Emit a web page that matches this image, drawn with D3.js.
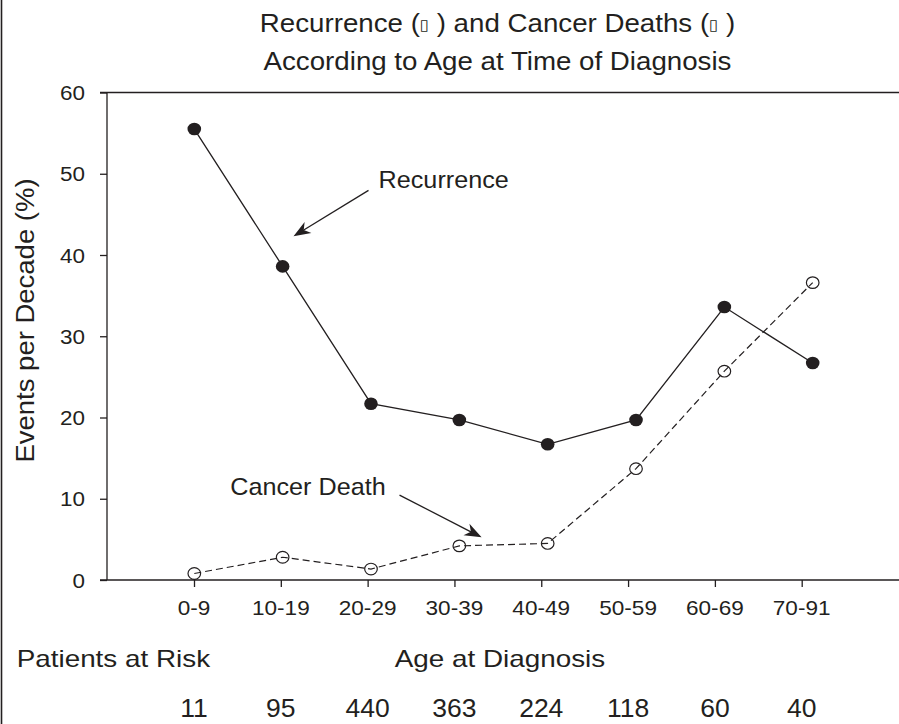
<!DOCTYPE html>
<html>
<head>
<meta charset="utf-8">
<script src="https://cdn.jsdelivr.net/npm/d3@7"></script>
<style>
  html, body { margin: 0; padding: 0; background: #fff; }
  svg { display: block; }
  text { font-family: "Liberation Sans", Arial, "DejaVu Sans", sans-serif; fill: #231f20; }
</style>
</head>
<body>
<svg id="chart" width="899" height="724"></svg>
<script>
// ---- data ----
const ageGroups = ["0-9", "10-19", "20-29", "30-39", "40-49", "50-59", "60-69", "70-91"];
const recurrence = [55.5, 38.6, 21.7, 19.7, 16.7, 19.7, 33.6, 26.7];
const cancerDeath = [0.8, 2.8, 1.35, 4.2, 4.5, 13.7, 25.7, 36.6];
const patientsAtRisk = [11, 95, 440, 363, 224, 118, 60, 40];
const yTicks = [0, 10, 20, 30, 40, 50, 60];
const titleLine1 = ["Recurrence (", "\u25AF", " ) and Cancer Deaths (", "\u25AF", " )"];
const titleLine2 = "According to Age at Time of Diagnosis";
// annotations in data units: [x index, y value]
const recurrenceNote = { label: "Recurrence", text: [2.086, 48.2], from: [1.972, 47.95], to: [1.123, 42.3] };
const deathNote = { label: "Cancer Death", text: [0.407, 10.45], from: [2.323, 10.45], to: [3.252, 5.25] };

const ink = "#231f20";
const svg = d3.select("#chart");
const W = 899, H = 724;

// scales
const y = d3.scaleLinear().domain([0, 60]).range([580, 92.5]);
const xPts = d3.scaleLinear().domain([0, ageGroups.length - 1]).range([194.3, 812.7]);
const xAxisScale = d3.scalePoint().domain(ageGroups).range([194, 801.7]);

function addText(x, yy, str, size, sx, anchor, rot) {
  const t = svg.append("text")
    .attr("transform", `translate(${x},${yy})` + (rot ? ` rotate(${rot})` : "") + ` scale(${sx},1)`)
    .attr("font-size", size)
    .attr("text-anchor", anchor || "start");
  if (str !== null) t.text(str);
  return t;
}

// left frame border
svg.append("line").attr("x1", 1.5).attr("x2", 1.5).attr("y1", 0).attr("y2", H)
  .attr("stroke", ink).attr("stroke-width", 1.6);

// title
const t1 = addText(497.5, 32, null, 25, 1.108, "middle");
titleLine1.forEach((s, i) => {
  const ts = t1.append("tspan").text(s);
  if (s === "\u25AF") ts.attr("font-size", 15).attr("font-family", "DejaVu Sans").attr("dy", -2.5).attr("fill", ink);
  else if (i > 0) ts.attr("dy", 2.5);
});
addText(497.5, 70, titleLine2, 25, 1.108, "middle");

// y axis
const yAxis = d3.axisLeft(y).tickValues(yTicks).tickSize(7).tickPadding(15).tickFormat(d3.format("d"));
const gy = svg.append("g").attr("transform", "translate(107,0)").call(yAxis);
gy.select(".domain").attr("stroke", ink).attr("stroke-width", 1.3).attr("d", `M0,${y(60)}V${y(0)}`);
gy.selectAll(".tick line").attr("stroke", ink).attr("stroke-width", 1.3);
gy.selectAll(".tick text").remove();
yTicks.forEach(v => addText(85, y(v) + 7.5, String(v), 21, 1.07, "end"));

// top and bottom horizontal lines
[0, 60].forEach(v => {
  svg.append("line").attr("x1", 100).attr("x2", W).attr("y1", y(v)).attr("y2", y(v))
    .attr("stroke", ink).attr("stroke-width", 1.4);
});

// x axis ticks
const xAxis = d3.axisBottom(xAxisScale).tickSize(7).tickFormat("");
const gx = svg.append("g").attr("transform", `translate(0,${y(0)})`).call(xAxis);
gx.select(".domain").remove();
gx.selectAll(".tick line").attr("stroke", ink).attr("stroke-width", 1.3);
ageGroups.forEach(a => addText(xAxisScale(a), 615, a, 20, 1.13, "middle"));

// y title
addText(33.5, 320.5, "Events per Decade (%)", 25, 1.1, "middle", -90);

// bottom labels
addText(16.7, 667, "Patients at Risk", 24, 1.16, "start");
addText(500, 667, "Age at Diagnosis", 24, 1.16, "middle");
ageGroups.forEach((a, i) => addText(xAxisScale(a), 717, String(patientsAtRisk[i]), 26, 1.02, "middle"));

// lines
const line = d3.line().x((d, i) => xPts(i)).y(d => y(d));
svg.append("path").datum(cancerDeath).attr("d", line)
  .attr("fill", "none").attr("stroke", ink).attr("stroke-width", 1.2).attr("stroke-dasharray", "7,4");
svg.append("path").datum(recurrence).attr("d", line)
  .attr("fill", "none").attr("stroke", ink).attr("stroke-width", 1.3);

// markers
svg.selectAll(".rec").data(recurrence).enter().append("ellipse")
  .attr("cx", (d, i) => xPts(i)).attr("cy", d => y(d)).attr("rx", 6.8).attr("ry", 6.3)
  .attr("fill", ink);
svg.selectAll(".cd").data(cancerDeath).enter().append("ellipse")
  .attr("cx", (d, i) => xPts(i)).attr("cy", d => y(d)).attr("rx", 6.3).attr("ry", 5.8)
  .attr("fill", "none").attr("stroke", ink).attr("stroke-width", 1.2);

// annotations
function arrow(note) {
  const x1 = xPts(note.from[0]), y1 = y(note.from[1]);
  const x2 = xPts(note.to[0]), y2 = y(note.to[1]);
  const ang = Math.atan2(y2 - y1, x2 - x1);
  const L = 17, Wd = 6.5, notch = 12;
  const px = (a, b) => [x2 + a * Math.cos(ang) - b * Math.sin(ang), y2 + a * Math.sin(ang) + b * Math.cos(ang)];
  svg.append("line").attr("x1", x1).attr("y1", y1)
    .attr("x2", px(-notch, 0)[0]).attr("y2", px(-notch, 0)[1])
    .attr("stroke", ink).attr("stroke-width", 1.3);
  const pts = [px(0, 0), px(-L, -Wd), px(-notch, 0), px(-L, Wd)];
  svg.append("path").attr("d", "M" + pts.map(p => p.join(",")).join("L") + "Z").attr("fill", ink);
  addText(xPts(note.text[0]), y(note.text[1]), note.label, 24, 1.05, "start");
}
arrow(recurrenceNote);
arrow(deathNote);
</script>
</body>
</html>
